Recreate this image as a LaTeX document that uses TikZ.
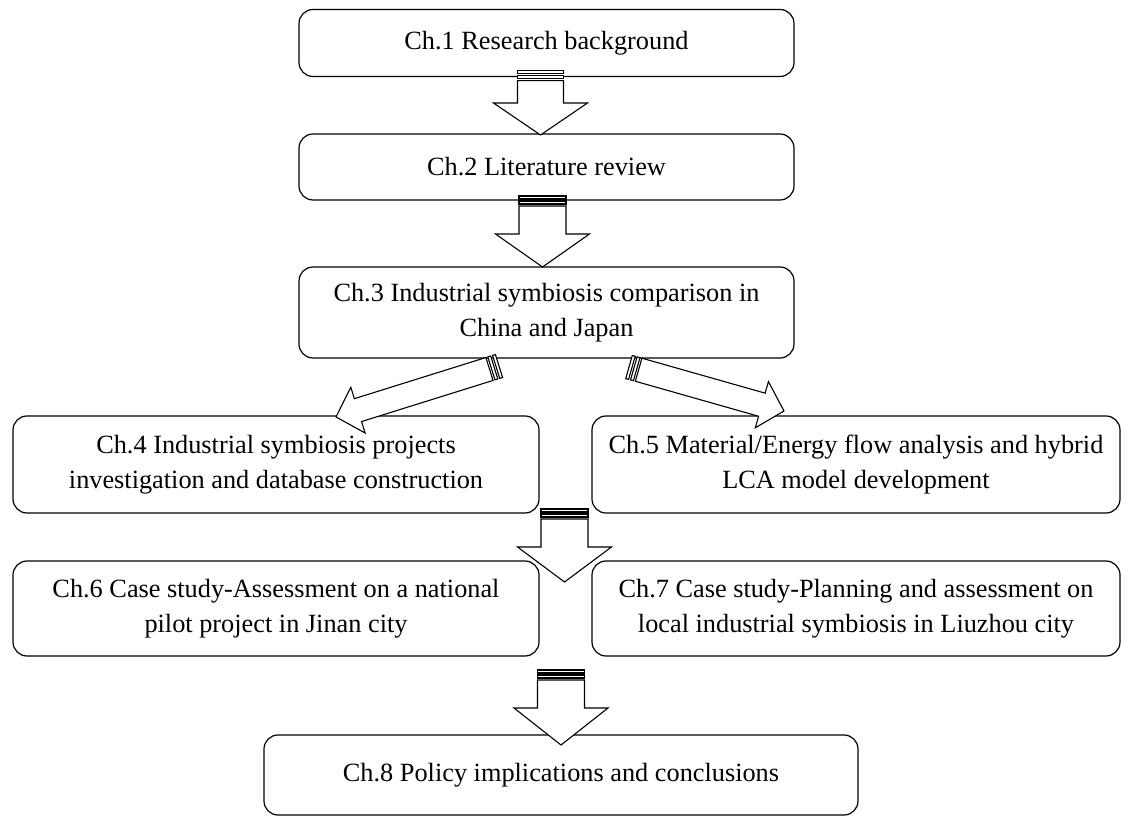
\documentclass[tikz,border=0pt]{standalone}
\usepackage{fontspec}
\setmainfont{Liberation Serif}
\usetikzlibrary{calc}

% Striped block arrow from tail coordinate #1 to tip coordinate #2;
% #3 shaft half-width, #4 head half-width, #5 head length (all in pt)
\newcommand\stripedarrow[5]{%
  \pgfpointdiff{\pgfpointanchor{#1}{center}}{\pgfpointanchor{#2}{center}}%
  \pgfgetlastxy{\sadx}{\sady}%
  \pgfmathsetmacro\saang{atan2(\sady,\sadx)}%
  \pgfmathsetmacro\salen{veclen(\sadx,\sady)}%
  \pgfmathsetmacro\sabase{\salen-#5}%
  \begin{scope}[shift={(#1)}, rotate=\saang]
    \path[arrowline] (0,-#3) rectangle (3,#3);
    \path[arrowline] (5,-#3) rectangle (8,#3);
    \path[arrowline] (10,-#3) -- (\sabase,-#3) -- (\sabase,-#4) -- (\salen,0)
      -- (\sabase,#4) -- (\sabase,#3) -- (10,#3) -- cycle;
  \end{scope}}

\begin{document}
\begin{tikzpicture}[x=1pt,y=1pt,
  box/.style={draw, line width=1.2pt, rounded corners=14pt, align=center,
    inner sep=0pt, font=\fontsize{26.3}{35}\selectfont},
  arrowline/.style={draw, line width=1.1pt, fill=white, line join=miter}]
\useasboundingbox (0,0) rectangle (1131,816);

% chapter boxes
\node[box, minimum width=495pt, minimum height=67pt] (c1) at (546.5,773)
  {Ch.1 Research background};
\node[box, minimum width=495pt, minimum height=66pt] (c2) at (546.5,649)
  {Ch.2 Literature review};
\node[box, minimum width=495pt, minimum height=91pt] (c3) at (546.5,503.5)
  {Ch.3 Industrial symbiosis comparison in\\China and Japan};
\node[box, minimum width=526pt, minimum height=97pt] (c4) at (276,351.5)
  {Ch.4 Industrial symbiosis projects\\investigation and database construction};
\node[box, minimum width=528pt, minimum height=97pt] (c5) at (856,351.5)
  {Ch.5 Material/Energy flow analysis and hybrid\\LCA model development};
\node[box, minimum width=526pt, minimum height=95pt] (c6) at (276,207.5)
  {Ch.6 Case study-Assessment on a national\\pilot project in Jinan city};
\node[box, minimum width=528pt, minimum height=95pt] (c7) at (856,207.5)
  {Ch.7 Case study-Planning and assessment on\\local industrial symbiosis in Liuzhou city};
\node[box, minimum width=594pt, minimum height=80pt] (c8) at (561,41)
  {Ch.8 Policy implications and conclusions};

% arrow ends
\coordinate (a1t) at (540.5,745.3); \coordinate (a1h) at (540.5,681);
\coordinate (a2t) at (542.5,620);   \coordinate (a2h) at (542.5,549);
\coordinate (a3t) at (564.5,307);   \coordinate (a3h) at (564.5,234);
\coordinate (a4t) at (561,146);     \coordinate (a4h) at (561,71);
\coordinate (dlt) at (499,450);     \coordinate (dlh) at (336,399);
\coordinate (drt) at (629,449);     \coordinate (drh) at (784,405);

% striped block arrows
\stripedarrow{a1t}{a1h}{23}{47}{32}
\stripedarrow{a2t}{a2h}{23.5}{47}{33}
\stripedarrow{dlt}{dlh}{12}{24}{23}
\stripedarrow{drt}{drh}{12}{24}{23}
\stripedarrow{a3t}{a3h}{23.5}{47}{35}
\stripedarrow{a4t}{a4h}{23.5}{47}{37}
\end{tikzpicture}
\end{document}
